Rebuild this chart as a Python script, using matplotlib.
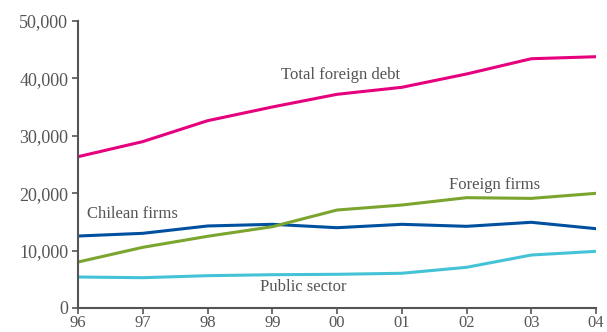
import matplotlib.pyplot as plt
from matplotlib.ticker import FuncFormatter

# ------------------------------------------------------------
# Data: foreign debt by debtor (US$ millions)
# ------------------------------------------------------------
years = ["96", "97", "98", "99", "00", "01", "02", "03", "04"]
total_debt = [26360, 28990, 32630, 35020, 37230, 38450, 40770, 43430, 43780]
chilean_firms = [12540, 13010, 14290, 14580, 13990, 14580, 14230, 14930, 13820]
foreign_firms = [8010, 10570, 12490, 14160, 17070, 17940, 19220, 19100, 19980]
public_sector = [5400, 5280, 5630, 5800, 5870, 6050, 7090, 9230, 9870]

plt.rcParams['font.family'] = ['Liberation Serif', 'DejaVu Serif']
grey = '#555555'

fig = plt.figure(figsize=(6.07, 3.32), dpi=100)
ax = fig.add_axes([0.1285, 0.0723, 0.8535, 0.8644])

x = range(len(years))
ax.plot(x, total_debt, color='#E6007E', lw=2.2)
ax.plot(x, chilean_firms, color='#0050A0', lw=2.2)
ax.plot(x, foreign_firms, color='#7BA52E', lw=2.2)
ax.plot(x, public_sector, color='#45C3D6', lw=2.2)

# series labels
ax.text(3.13, 40600, "Total foreign debt", fontsize=12, color=grey, va='center')
ax.text(0.14, 16400, "Chilean firms", fontsize=12, color=grey, va='center')
ax.text(5.73, 21500, "Foreign firms", fontsize=12, color=grey, va='center')
ax.text(2.81, 3650, "Public sector", fontsize=12, color=grey, va='center')

ax.set_xlim(0, len(years) - 1)
ax.set_ylim(0, 50000)
ax.set_xticks(list(x))
ax.set_xticklabels(years)
ax.set_yticks(range(0, 50001, 10000))
ax.yaxis.set_major_formatter(FuncFormatter(lambda v, p: f"{int(v):,}"))

for s in ['top', 'right']:
    ax.spines[s].set_visible(False)
for s in ['left', 'bottom']:
    ax.spines[s].set_color(grey)
    ax.spines[s].set_linewidth(1.5)
ax.tick_params(axis='both', colors=grey, length=4, width=1.2)
ax.tick_params(axis='x', labelsize=12, pad=1)
ax.tick_params(axis='y', labelsize=13, pad=3)

plt.savefig("out.png", dpi=100)
